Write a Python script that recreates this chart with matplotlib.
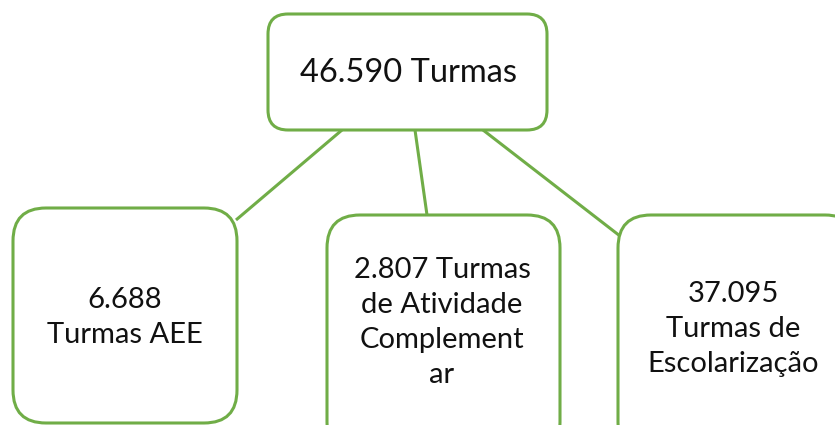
import matplotlib.pyplot as plt
from matplotlib.patches import FancyBboxPatch

total_label = "46.590 Turmas"
child_lines = [
    ["6.688", "Turmas AEE"],
    ["2.807 Turmas", "de Atividade", "Complement", "ar"],
    ["37.095", "Turmas de", "Escolarização"],
]

green = "#70AD47"
plt.rcParams["font.family"] = ["Lato", "DejaVu Sans"]

fig = plt.figure(figsize=(8.35, 4.25), dpi=100)
ax = fig.add_axes([0, 0, 1, 1])
ax.set_xlim(0, 835)
ax.set_ylim(425, 0)
ax.axis("off")

# connectors (top box bottom -> child box)
links = [((342, 130), (236, 220)), ((415, 130), (427, 215)), ((483, 130), (620, 236))]
for (x0, y0), (x1, y1) in links:
    ax.plot([x0, x1], [y0, y1], color=green, lw=2.2, solid_capstyle="butt", zorder=1)

# top box
ax.add_patch(FancyBboxPatch((268, 14), 279, 116, boxstyle="round,pad=0,rounding_size=20",
                            fc="white", ec=green, lw=2.2, zorder=2))
ax.text(408, 82, total_label, ha="center", va="baseline", fontsize=23.5, color="#111111", zorder=3)

# child boxes: x, y, w, h, text centre
boxes = [(13, 208, 224, 215, 125), (327, 215, 233, 240, 442), (618, 215, 240, 240, 733)]
first_base = [308, 278, 302]
for (x, y, w, h, cx), lines, b0 in zip(boxes, child_lines, first_base):
    ax.add_patch(FancyBboxPatch((x, y), w, h, boxstyle="round,pad=0,rounding_size=33",
                                fc="white", ec=green, lw=2.2, zorder=2))
    for i, s in enumerate(lines):
        ax.text(cx, b0 + 35 * i, s, ha="center", va="baseline",
                fontsize=21, color="#111111", zorder=3)

fig.savefig("out.png", dpi=100)
